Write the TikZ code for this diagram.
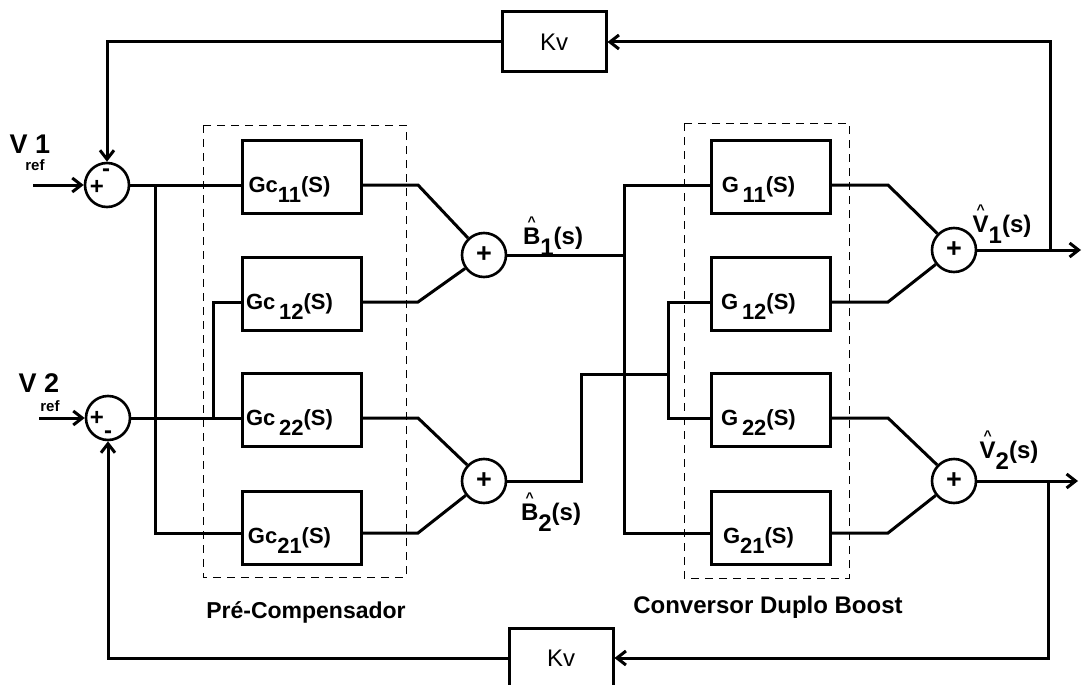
\documentclass[tikz,border=0pt]{standalone}
\usepackage{fontspec}
\setmainfont{Liberation Sans}
\usetikzlibrary{arrows.meta,calc}
\newcommand\fs[1]{\fontsize{#1}{#1}\selectfont}
\newcommand\lo[1]{\raisebox{-0.45em}{#1}}
\newcommand\hatted[1]{\setbox0=\hbox{#1}\hbox to \wd0{\hss\raisebox{0.75em}{\fs{14}\textasciicircum}\hss}\hspace{-\wd0}\box0}
\begin{document}
\begin{tikzpicture}[x=1pt,y=-1pt,
 line/.style={line width=3pt},
 blk/.style={draw,line width=3pt,minimum width=119pt,minimum height=73pt,inner sep=0pt,text height=31pt,text depth=0pt,font=\bfseries\fs{22}},
 sum/.style={draw,circle,line width=2.6pt,minimum size=44pt,inner sep=0pt,font=\bfseries\fs{27}},
 kv/.style={draw,line width=3pt,minimum width=104pt,minimum height=60pt,inner sep=0pt,font=\fs{24}},
 grp/.style={line width=0.9pt,dash pattern=on 8pt off 6pt},
 lbl/.style={font=\bfseries\fs{24},inner sep=0pt},
 sign/.style={font=\bfseries\fs{24},inner sep=0pt},
 reff/.style={font=\bfseries\fs{15},inner sep=0pt},
 captxt/.style={font=\bfseries\fs{23},inner sep=0pt},
 arr/.style={-{Straight Barb[length=9pt,width=14pt]}}]
\fill[white] (0,0) rectangle (1084,685);
\clip (0,0) rectangle (1084,685);
% group frames
\draw[grp] (203,125) rectangle (406,577);
\draw[grp] (684,123) rectangle (849,578);
% blocks
\node[blk] (gc11) at (301.5,177) {Gc\lo{11}(S)\hspace*{24pt}};
\node[blk] (gc12) at (301.5,294) {Gc\,\lo{12}(S)\hspace*{24pt}};
\node[blk] (gc22) at (301.5,410) {Gc\,\lo{22}(S)\hspace*{24pt}};
\node[blk] (gc21) at (301.5,528) {Gc\lo{21}(S)\hspace*{24pt}};
\node[blk] (g11) at (770.5,177) {G\,\lo{11}(S)\hspace*{24pt}};
\node[blk] (g12) at (770.5,294) {G\,\lo{12}(S)\hspace*{24pt}};
\node[blk] (g22) at (770.5,410) {G\,\lo{22}(S)\hspace*{24pt}};
\node[blk] (g21) at (770.5,528) {G\lo{21}(S)\hspace*{24pt}};
% sums
\node[sum] (s1) at (107,185) {};
\node[sum] (s2) at (108,418) {};
\node[sum] (sb1) at (484,255) {+};
\node[sum] (sb2) at (484,481) {+};
\node[sum] (sv1) at (954,250) {+};
\node[sum] (sv2) at (954,481) {+};
\node[sign] (p1) at (97,187) {+};
\node[sign] (n1s) at (106,173) {-};
\node[sign] (p2) at (97,418) {+};
\node[sign] (n2s) at (108,435) {-};
% gains
\node[kv] (kv1) at (554,42) {Kv};
\node[kv] (kv2) at (561,658) {Kv};
% coordinates
\coordinate (in1) at (33,185);
\coordinate (in2) at (39,418);
\coordinate (j1) at (155,185);
\coordinate (j2) at (213,418);
\coordinate (m1) at (418,185);
\coordinate (m2) at (418,302);
\coordinate (m3) at (418,418);
\coordinate (m4) at (418,533);
\coordinate (b1) at (624,185);
\coordinate (b1e) at (624,533);
\coordinate (b2a) at (581,374);
\coordinate (b2) at (668,374);
\coordinate (n1) at (888,185);
\coordinate (n2) at (888,302);
\coordinate (n3) at (888,418);
\coordinate (n4) at (888,533);
\coordinate (f1) at (1050,250);
\coordinate (out1) at (1081,250);
\coordinate (f2) at (1048,481);
\coordinate (out2) at (1078,481);
% connectors
\draw[line,arr] (in1) -- (s1);
\draw[line,arr] (in2) -- (s2);
\draw[line] (s1.east) -- (gc11.west |- s1);
\draw[line] (j1) |- (gc21.west |- m4);
\draw[line] (s2.east) -- (gc22.west |- s2);
\draw[line] (j2) |- (gc12.west |- m2);
\draw[line] (gc11.east |- m1) -- (m1) -- (sb1);
\draw[line] (gc12.east |- m2) -- (m2) -- (sb1);
\draw[line] (gc22.east |- m3) -- (m3) -- (sb2);
\draw[line] (gc21.east |- m4) -- (m4) -- (sb2);
\draw[line] (sb1.east) -- (sb1.east -| b1);
\draw[line] (g11.west |- b1) -- (b1) -- (b1e) -- (g21.west |- b1e);
\draw[line] (sb2.east) -| (b2a) -- (b2);
\draw[line] (g12.west |- m2) -| (b2) |- (g22.west |- m3);
\draw[line] (g11.east |- n1) -- (n1) -- (sv1);
\draw[line] (g12.east |- n2) -- (n2) -- (sv1);
\draw[line] (g22.east |- n3) -- (n3) -- (sv2);
\draw[line] (g21.east |- n4) -- (n4) -- (sv2);
\draw[line,arr] (sv1.east) -- (out1);
\draw[line,arr] (f1) |- (kv1.east);
\draw[line,arr] (kv1.west) -| (s1.north);
\draw[line,arr] (sv2.east) -- (out2);
\draw[line,arr] (f2) |- (kv2.east);
\draw[line,arr] (kv2.west) -| (s2.south);
% labels
\node[lbl] (lb1) at (553,236) {\hatted{B}\lo{1}(s)};
\node[lbl] (lb2) at (551,512) {\hatted{B}\lo{2}(s)};
\node[lbl] (lv1) at (1002,224) {\hatted{V}\lo{1}(s)};
\node[lbl] (lv2) at (1009,450) {\hatted{V}\lo{2}(s)};
\node[lbl,font=\bfseries\fs{27}] (v1) at (30,144) {V 1};
\node[reff] (r1) at (35,165) {ref};
\node[lbl,font=\bfseries\fs{27}] (v2) at (39,383) {V 2};
\node[reff] (r2) at (50,406) {ref};
\node[captxt] (c1) at (306,612) {Pré-Compensador};
\node[captxt,font=\bfseries\fs{24}] (c2) at (768,607) {Conversor Duplo Boost};
\end{tikzpicture}
\end{document}
